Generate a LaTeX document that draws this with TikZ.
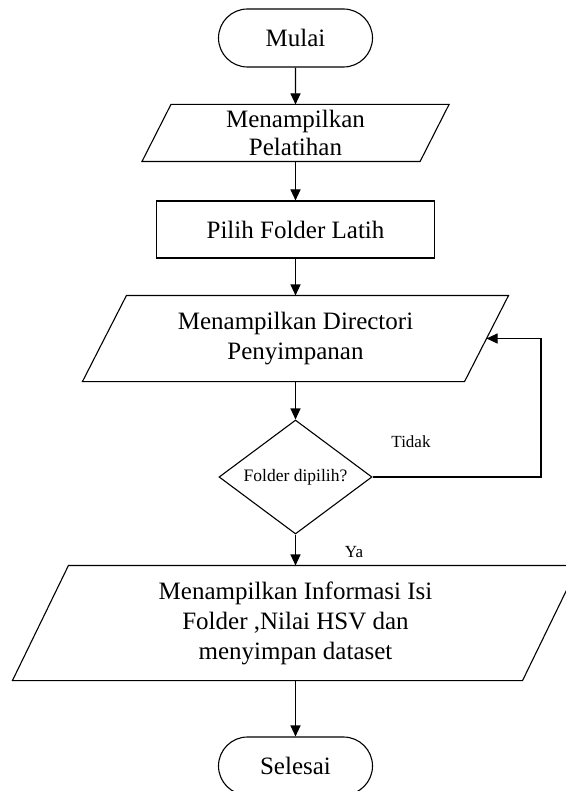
\documentclass[tikz,border=0pt]{standalone}
\usepackage{fontspec}
\setmainfont{Liberation Serif}
\usetikzlibrary{shapes.geometric,shapes.misc,arrows.meta}

% outline of an input/output parallelogram around a plain node
\newcommand\ioslant[2]{%
  \draw ([xshift=#2/2]#1.north west) -- ([xshift=#2/2]#1.north east)
     -- ([xshift=-#2/2]#1.south east) -- ([xshift=-#2/2]#1.south west) -- cycle;}

\begin{document}
\begin{tikzpicture}[x=1pt,y=-1pt,line width=1.1pt,
  bigtext/.style={font=\fontsize{25}{30}\selectfont},
  term/.style={rounded rectangle, draw, minimum width=154pt, minimum height=58pt,
    inner sep=0pt, bigtext},
  procbox/.style={rectangle, draw, minimum width=278pt, minimum height=57pt,
    inner sep=0pt, bigtext},
  iobody/.style={rectangle, inner sep=0pt, align=center, bigtext},
  decbox/.style={diamond, draw, aspect=1.34, minimum width=153pt,
    minimum height=114pt, inner sep=0pt, font=\fontsize{17.5}{20}\selectfont},
  arr/.style={-{Triangle[length=11pt,width=10pt]}},
  lbl/.style={font=\fontsize{17}{20}\selectfont, inner sep=0pt}]

\fill[white] (0,0) rectangle (565,791);
\useasboundingbox (0,0) rectangle (565,791);

% flow steps
\node[term] (start) at (295.5,38) {Mulai};
\node[iobody, minimum width=277pt, minimum height=56pt,
  font=\fontsize{25}{28}\selectfont] (p1) at (295.5,133)
  {Menampilkan\\Pelatihan};
\ioslant{p1}{29pt}
\node[procbox] (proc) at (295.5,229.5) {Pilih Folder Latih};
\node[iobody, minimum width=381pt, minimum height=85pt] (p2) at (295.5,338.5)
  {Menampilkan Directori\\Penyimpanan};
\ioslant{p2}{44pt}
\node[decbox] (dec) at (295.5,477) {Folder dipilih?};
\node[iobody, minimum width=509pt, minimum height=114pt] (p3) at (295.5,623)
  {Menampilkan Informasi Isi\\Folder ,Nilai HSV dan\\menyimpan dataset};
\ioslant{p3}{56pt}
\node[term] (end) at (295.5,766) {Selesai};

% connectors
\draw[arr] (start) -- (p1);
\draw[arr] (p1) -- (proc);
\draw[arr] (proc) -- (p2);
\draw[arr] (p2) -- (dec);
\draw[arr] (dec) -- (p3);
\draw[arr] (p3) -- (end);
\coordinate (loopc) at (541,477);
\draw[arr] (dec.east) -- (loopc) |- (p2.east);

% branch labels
\node[lbl] (no) at (411,442) {Tidak};
\node[lbl] (yes) at (354,552) {Ya};
\end{tikzpicture}
\end{document}
